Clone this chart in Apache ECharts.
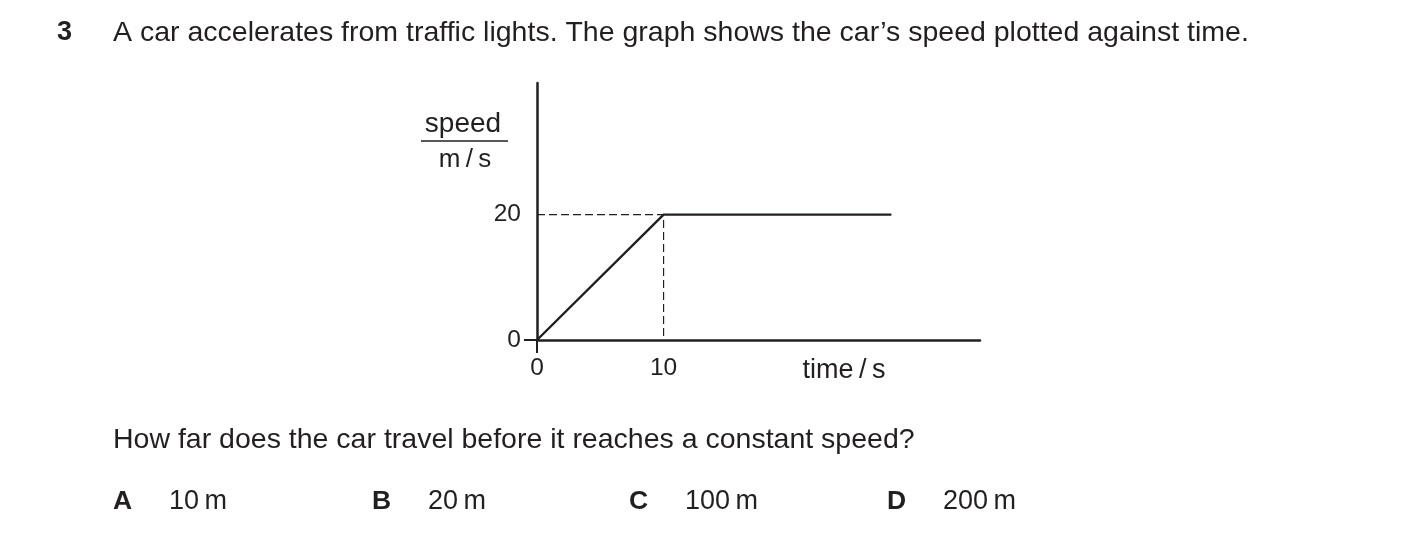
<!DOCTYPE html>
<html>
<head>
<meta charset="utf-8">
<script src="https://cdn.jsdelivr.net/npm/echarts@6/dist/echarts.min.js"></script>
<style>
	html, body { margin: 0; padding: 0; background: #fff; }
	#chart { width: 1403px; height: 544px; }
</style>
</head>
<body>
<div id="chart"></div>
<script>
/* 數據 */
const timeValues = [0, 10, 28];
const speedValues = [0, 20, 20];
const xTickLabels = [0, 10];
const yTickLabels = [0, 20];
const xRange = [0, 35];
const yRange = [0, 41];
const options = [
	{ letter: "A", text: "10\u2009m" },
	{ letter: "B", text: "20\u2009m" },
	{ letter: "C", text: "100\u2009m" },
	{ letter: "D", text: "200\u2009m" },
];

const ink = "#231f20";
const font = "'Liberation Sans', Arial, sans-serif";

const chart = echarts.init(document.querySelector("#chart"));

/* 折點輔助虛線 */
const knee = 1;
const guideData = [
	[xRange[0], speedValues[knee]],
	[timeValues[knee], speedValues[knee]],
	[timeValues[knee], yRange[0]],
];

const textStyle = (extra) =>
	Object.assign({ fill: ink, fontFamily: font, fontSize: 28.5, textVerticalAlign: "middle" }, extra);

/* 選項 */
const optionTexts = [];
const optionX = [113, 372, 629, 887];
options.forEach((o, i) => {
	optionTexts.push({
		type: "text",
		x: optionX[i],
		y: 502,
		style: textStyle({ text: o.letter, fontWeight: "bold", fontSize: 26.5 }),
	});
	optionTexts.push({
		type: "text",
		x: optionX[i] + 56,
		y: 502,
		style: textStyle({ text: o.text, fontSize: 27 }),
	});
});

chart.setOption({
	animation: false,
	grid: {
		left: 537,
		right: 423,
		top: 83,
		bottom: 204,
		containLabel: false,
	},
	xAxis: {
		type: "value",
		min: xRange[0],
		max: xRange[1],
		splitLine: { show: false },
		axisLine: { lineStyle: { color: ink, width: 2.5 } },
		axisTick: {
			show: true,
			customValues: [0],
			length: 13,
			lineStyle: { color: ink, width: 2 },
		},
		axisLabel: {
			customValues: xTickLabels,
			margin: 16,
			color: ink,
			fontFamily: font,
			fontSize: 24.5,
		},
	},
	yAxis: {
		type: "value",
		min: yRange[0],
		max: yRange[1],
		splitLine: { show: false },
		axisLine: { lineStyle: { color: ink, width: 2.5 } },
		axisTick: {
			show: true,
			customValues: [0],
			length: 13,
			lineStyle: { color: ink, width: 2 },
		},
		axisLabel: {
			customValues: yTickLabels,
			margin: 16,
			color: ink,
			fontFamily: font,
			fontSize: 24.5,
		},
	},
	series: [
		{
			type: "line",
			data: guideData,
			showSymbol: false,
			silent: true,
			lineStyle: { color: ink, width: 1.2, type: [8, 4] },
			z: 1,
		},
		{
			type: "line",
			data: timeValues.map((t, i) => [t, speedValues[i]]),
			showSymbol: false,
			lineStyle: { color: ink, width: 2.4 },
			z: 2,
		},
	],
	graphic: [
		{
			type: "text",
			x: 57,
			y: 33,
			style: textStyle({ text: "3", fontWeight: "bold", fontSize: 27 }),
		},
		{
			type: "text",
			x: 113,
			y: 33,
			style: textStyle({
				text: "A car accelerates from traffic lights. The graph shows the car\u2019s speed plotted against time.",
			}),
		},
		{
			type: "text",
			x: 463,
			y: 124,
			style: textStyle({ text: "speed", textAlign: "center", fontSize: 28 }),
		},
		{
			type: "line",
			shape: { x1: 421, y1: 141, x2: 508, y2: 141 },
			style: { stroke: ink, lineWidth: 1.5 },
		},
		{
			type: "text",
			x: 465,
			y: 160,
			style: textStyle({ text: "m\u2009/\u2009s", textAlign: "center", fontSize: 26 }),
		},
		{
			type: "text",
			x: 844,
			y: 371,
			style: textStyle({ text: "time\u2009/\u2009s", textAlign: "center", fontSize: 27 }),
		},
		{
			type: "text",
			x: 113,
			y: 440,
			style: textStyle({
				text: "How far does the car travel before it reaches a constant speed?",
			}),
		},
	].concat(optionTexts),
});
</script>
</body>
</html>
